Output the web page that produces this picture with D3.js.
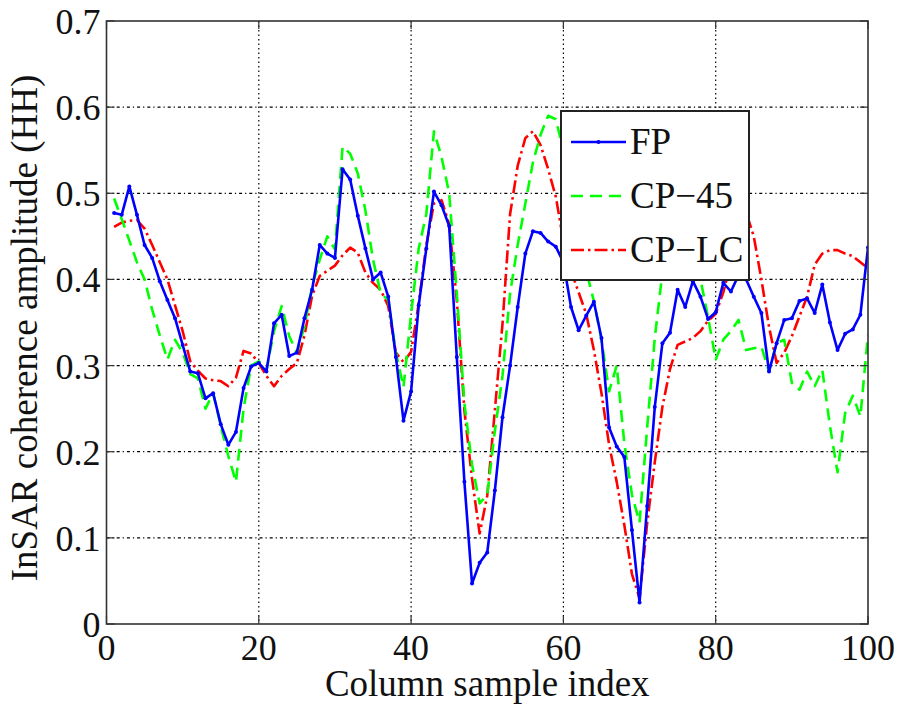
<!DOCTYPE html>
<html>
<head>
<meta charset="utf-8">
<script src="https://cdn.jsdelivr.net/npm/d3@7"></script>
<style>
  body { margin: 0; background: #fff; }
</style>
</head>
<body>
<div id="chart"></div>
<script>
// column sample index 1..100
var sampleIndex = d3.range(1, 101);

var fpValues = [
  0.477, 0.475, 0.508, 0.475, 0.440, 0.425, 0.398, 0.376, 0.355, 0.324,
  0.293, 0.291, 0.262, 0.268, 0.232, 0.208, 0.223, 0.274, 0.299, 0.303,
  0.293, 0.349, 0.359, 0.311, 0.315, 0.355, 0.388, 0.440, 0.430, 0.425,
  0.528, 0.516, 0.474, 0.436, 0.400, 0.408, 0.380, 0.310, 0.236, 0.270,
  0.370, 0.436, 0.502, 0.486, 0.462, 0.310, 0.165, 0.047, 0.071, 0.083,
  0.155, 0.240, 0.300, 0.368, 0.430, 0.456, 0.454, 0.444, 0.438, 0.420,
  0.368, 0.341, 0.358, 0.374, 0.332, 0.228, 0.206, 0.194, 0.109, 0.025,
  0.137, 0.252, 0.326, 0.338, 0.388, 0.368, 0.398, 0.380, 0.354, 0.362,
  0.396, 0.386, 0.405, 0.400, 0.380, 0.361, 0.293, 0.326, 0.353, 0.355,
  0.375, 0.378, 0.361, 0.394, 0.350, 0.318, 0.337, 0.342, 0.359, 0.437
];

var cp45Values = [
  0.494, 0.470, 0.445, 0.420, 0.400, 0.365, 0.335, 0.307, 0.330, 0.315,
  0.290, 0.285, 0.250, 0.268, 0.230, 0.195, 0.165, 0.250, 0.300, 0.305,
  0.295, 0.340, 0.369, 0.334, 0.315, 0.346, 0.392, 0.423, 0.450, 0.435,
  0.554, 0.546, 0.523, 0.480, 0.423, 0.384, 0.376, 0.315, 0.275, 0.360,
  0.436, 0.476, 0.572, 0.542, 0.500, 0.384, 0.256, 0.185, 0.140, 0.150,
  0.224, 0.288, 0.384, 0.440, 0.488, 0.536, 0.568, 0.590, 0.586, 0.550,
  0.500, 0.450, 0.410, 0.375, 0.330, 0.270, 0.300, 0.210, 0.150, 0.118,
  0.228, 0.332, 0.408, 0.440, 0.460, 0.450, 0.430, 0.400, 0.356, 0.307,
  0.330, 0.340, 0.353, 0.318, 0.320, 0.322, 0.293, 0.326, 0.330, 0.280,
  0.272, 0.293, 0.276, 0.295, 0.230, 0.176, 0.245, 0.265, 0.241, 0.336
];

var cplcValues = [
  0.461, 0.466, 0.468, 0.469, 0.459, 0.440, 0.420, 0.400, 0.370, 0.340,
  0.305, 0.294, 0.285, 0.283, 0.282, 0.276, 0.286, 0.317, 0.314, 0.303,
  0.288, 0.276, 0.288, 0.296, 0.303, 0.335, 0.381, 0.404, 0.410, 0.416,
  0.428, 0.437, 0.431, 0.408, 0.396, 0.388, 0.369, 0.315, 0.304, 0.316,
  0.372, 0.440, 0.488, 0.492, 0.464, 0.376, 0.248, 0.169, 0.105, 0.149,
  0.248, 0.348, 0.476, 0.532, 0.564, 0.572, 0.556, 0.528, 0.496, 0.445,
  0.410, 0.385, 0.360, 0.318, 0.268, 0.208, 0.165, 0.115, 0.058, 0.030,
  0.117, 0.188, 0.252, 0.296, 0.324, 0.328, 0.332, 0.340, 0.352, 0.360,
  0.385, 0.420, 0.455, 0.478, 0.450, 0.400, 0.345, 0.303, 0.315, 0.334,
  0.357, 0.380, 0.417, 0.430, 0.434, 0.434, 0.430, 0.427, 0.420, 0.413
];

var xTicks = [0, 20, 40, 60, 80, 100];
var yTicks = [0, 0.1, 0.2, 0.3, 0.4, 0.5, 0.6, 0.7];
var seriesNames = ["FP", "CP\u221245", "CP\u2212LC"];

var series = [
  { name: seriesNames[0], values: fpValues, color: "#0000ff", dash: null, marker: true },
  { name: seriesNames[1], values: cp45Values, color: "#00ff00", dash: "12,7", marker: false },
  { name: seriesNames[2], values: cplcValues, color: "#ff0000", dash: "13,4,2.5,4", marker: false }
];

var serif = "'Liberation Serif', 'DejaVu Serif', 'Times New Roman', Times, serif";

// dimensions
var W = 899, H = 704;
var margin = { top: 21, right: 31, bottom: 80, left: 106.5 };
var width = W - margin.left - margin.right;
var height = H - margin.top - margin.bottom;

var x = d3.scaleLinear().domain([0, 100]).range([0, width]);
var y = d3.scaleLinear().domain([0, 0.7]).range([height, 0]);

var root = d3.select("#chart").append("svg")
    .attr("width", W)
    .attr("height", H)
    .attr("font-family", serif);

var svg = root.append("g")
    .attr("transform", "translate(" + margin.left + "," + margin.top + ")");

svg.append("defs").append("clipPath")
    .attr("id", "plotClip")
  .append("rect")
    .attr("width", width)
    .attr("height", height);

// grid
svg.append("g").selectAll("line")
    .data(yTicks.slice(1, -1))
  .enter().append("line")
    .attr("x1", 0).attr("x2", width)
    .attr("y1", function(d) { return y(d); })
    .attr("y2", function(d) { return y(d); })
    .attr("stroke", "#000")
    .attr("stroke-width", 1.2)
    .attr("stroke-dasharray", "3,3,1.2,3");

svg.append("g").selectAll("line")
    .data(xTicks.slice(1, -1))
  .enter().append("line")
    .attr("y1", 0).attr("y2", height)
    .attr("x1", function(d) { return x(d); })
    .attr("x2", function(d) { return x(d); })
    .attr("stroke", "#000")
    .attr("stroke-width", 1.2)
    .attr("stroke-dasharray", "1.5,3");

// lines
var line = d3.line()
    .x(function(d, i) { return x(sampleIndex[i]); })
    .y(function(d) { return y(d); });

var plot = svg.append("g").attr("clip-path", "url(#plotClip)");

series.slice().reverse().forEach(function(s) {
  plot.append("path")
      .datum(s.values)
      .attr("fill", "none")
      .attr("stroke", s.color)
      .attr("stroke-width", 2.6)
      .attr("stroke-linejoin", "round")
      .attr("stroke-dasharray", s.dash)
      .attr("d", line);

  if (s.marker) {
    plot.append("g").selectAll("circle")
        .data(s.values)
      .enter().append("circle")
        .attr("cx", function(d, i) { return x(sampleIndex[i]); })
        .attr("cy", function(d) { return y(d); })
        .attr("r", 2)
        .attr("fill", s.color);
  }
});

// frame + inward ticks
svg.append("rect")
    .attr("width", width)
    .attr("height", height)
    .attr("fill", "none")
    .attr("stroke", "#333")
    .attr("stroke-width", 1.6);

var tickLen = 8;
var ticks = svg.append("g").attr("stroke", "#333").attr("stroke-width", 1.2);
xTicks.forEach(function(t) {
  ticks.append("line").attr("x1", x(t)).attr("x2", x(t)).attr("y1", height).attr("y2", height - tickLen);
  ticks.append("line").attr("x1", x(t)).attr("x2", x(t)).attr("y1", 0).attr("y2", tickLen);
});
yTicks.forEach(function(t) {
  ticks.append("line").attr("x1", 0).attr("x2", tickLen).attr("y1", y(t)).attr("y2", y(t));
  ticks.append("line").attr("x1", width).attr("x2", width - tickLen).attr("y1", y(t)).attr("y2", y(t));
});

// tick labels
svg.append("g").selectAll("text")
    .data(xTicks)
  .enter().append("text")
    .attr("x", function(d) { return x(d); })
    .attr("y", height + 36)
    .attr("text-anchor", "middle")
    .attr("font-size", 36)
    .attr("fill", "#111")
    .text(function(d) { return d; });

svg.append("g").selectAll("text")
    .data(yTicks)
  .enter().append("text")
    .attr("x", -6)
    .attr("y", function(d) { return y(d); })
    .attr("dy", "0.36em")
    .attr("text-anchor", "end")
    .attr("font-size", 36)
    .attr("fill", "#111")
    .text(function(d) { return d === 0 ? "0" : d3.format(".1f")(d); });

// axis titles
svg.append("text")
    .attr("x", width / 2)
    .attr("y", height + 72)
    .attr("text-anchor", "middle")
    .attr("font-size", 37)
    .attr("fill", "#111")
    .text("Column sample index");

svg.append("text")
    .attr("transform", "translate(" + (37 - margin.left) + "," + (328 - margin.top) + ") rotate(-90)")
    .attr("text-anchor", "middle")
    .attr("font-size", 37)
    .attr("fill", "#111")
    .text("InSAR coherence amplitude (HH)");

// legend
var legend = svg.append("g")
    .attr("transform", "translate(" + (561 - margin.left) + "," + (111 - margin.top) + ")");

legend.append("rect")
    .attr("width", 188)
    .attr("height", 169)
    .attr("fill", "#fff")
    .attr("stroke", "#222")
    .attr("stroke-width", 2);

series.forEach(function(s, i) {
  var ly = 31 + i * 54;
  legend.append("line")
      .attr("x1", 10).attr("x2", 65)
      .attr("y1", ly).attr("y2", ly)
      .attr("stroke", s.color)
      .attr("stroke-width", 2.6)
      .attr("stroke-dasharray", s.dash);
  if (s.marker) {
    legend.append("circle").attr("cx", 37.5).attr("cy", ly).attr("r", 2).attr("fill", s.color);
  }
  legend.append("text")
      .attr("x", 69)
      .attr("y", ly + 12)
      .attr("font-size", 37)
      .attr("fill", "#111")
      .text(s.name);
});
</script>
</body>
</html>
